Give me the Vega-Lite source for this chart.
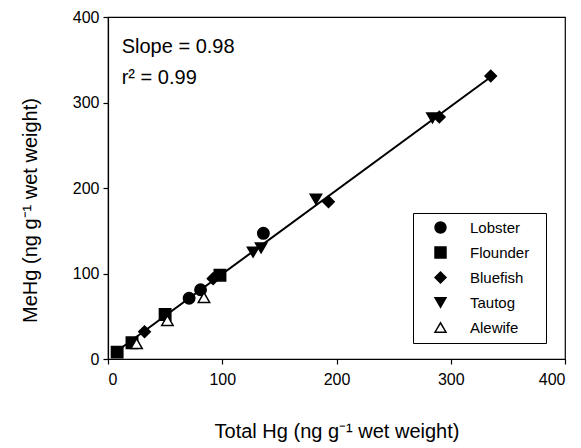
{
  "$schema": "https://vega.github.io/schema/vega-lite/v6.json",
  "autosize": "none",
  "width": 457,
  "height": 342,
  "padding": {"left": 108, "top": 17, "right": 16, "bottom": 89},
  "background": "white",
  "config": {
    "font": "Liberation Sans",
    "view": {"stroke": "black", "strokeWidth": 1.2},
    "axis": {
      "domainColor": "black", "domainWidth": 1.2, "tickColor": "black", "tickWidth": 1.2,
      "tickSize": 5, "grid": false, "labelFont": "Liberation Sans", "labelFontSize": 16,
      "labelColor": "black", "titleFont": "Liberation Sans", "titleFontSize": 20,
      "titleFontWeight": "normal", "titleColor": "black"
    },
    "legend": {
      "orient": "none", "legendX": 305, "legendY": 196, "padding": 7,
      "strokeColor": "black", "fillColor": "white", "labelFontSize": 15,
      "labelFont": "Liberation Sans", "labelColor": "black", "symbolSize": 120,
      "symbolStrokeWidth": 1.5, "symbolOffset": 13,
      "labelOffset": 22, "rowPadding": 8,
      "titleOrient": "right", "titleFontSize": 2, "titlePadding": 9, "titleColor": "white"
    }
  },
  "layer": [
    {
      "data": {"values": [{"total": 8, "mehg": 9.3}, {"total": 335, "mehg": 329.8}]},
      "mark": {"type": "line", "color": "black", "strokeWidth": 2},
      "encoding": {
        "x": {"field": "total", "type": "quantitative", "scale": {"domain": [0, 400], "nice": false},
          "axis": {"values": [0, 100, 200, 300, 400], "title": "Total Hg (ng g⁻¹ wet weight)", "labelPadding": 7, "titleY": 78, "titleBaseline": "alphabetic"}},
        "y": {"field": "mehg", "type": "quantitative", "scale": {"domain": [0, 400], "nice": false},
          "axis": {"values": [0, 100, 200, 300, 400], "title": "MeHg (ng g⁻¹ wet weight)", "labelPadding": 4, "titleX": -78, "titleY": 193, "titleAlign": "center", "titleBaseline": "middle"}}
      }
    },
    {
      "data": {"values": [
        {"species": "Lobster", "total": 71, "mehg": 71},
        {"species": "Lobster", "total": 81, "mehg": 81},
        {"species": "Lobster", "total": 136, "mehg": 147},
        {"species": "Flounder", "total": 8, "mehg": 8},
        {"species": "Flounder", "total": 21, "mehg": 19},
        {"species": "Flounder", "total": 50, "mehg": 52},
        {"species": "Flounder", "total": 98, "mehg": 98},
        {"species": "Bluefish", "total": 32, "mehg": 32},
        {"species": "Bluefish", "total": 92, "mehg": 94},
        {"species": "Bluefish", "total": 193, "mehg": 184},
        {"species": "Bluefish", "total": 290, "mehg": 283},
        {"species": "Bluefish", "total": 335, "mehg": 331},
        {"species": "Tautog", "total": 127, "mehg": 125},
        {"species": "Tautog", "total": 134, "mehg": 130},
        {"species": "Tautog", "total": 182, "mehg": 187},
        {"species": "Tautog", "total": 284, "mehg": 282},
        {"species": "Alewife", "total": 25, "mehg": 18},
        {"species": "Alewife", "total": 52, "mehg": 45},
        {"species": "Alewife", "total": 84, "mehg": 72}
      ]},
      "mark": {"type": "point", "filled": true, "size": 130, "strokeWidth": 1.5, "opacity": 1, "fillOpacity": 1, "strokeOpacity": 1},
      "encoding": {
        "x": {"field": "total", "type": "quantitative"},
        "y": {"field": "mehg", "type": "quantitative"},
        "shape": {"field": "species", "type": "nominal",
          "scale": {"domain": ["Lobster", "Flounder", "Bluefish", "Tautog", "Alewife"], "range": ["circle", "square", "diamond", "triangle-down", "triangle-up"]},
          "legend": {"title": "."}},
        "fill": {"field": "species", "type": "nominal",
          "scale": {"domain": ["Lobster", "Flounder", "Bluefish", "Tautog", "Alewife"], "range": ["black", "black", "black", "black", "white"]},
          "legend": {"title": "."}},
        "stroke": {"field": "species", "type": "nominal",
          "scale": {"domain": ["Lobster", "Flounder", "Bluefish", "Tautog", "Alewife"], "range": ["black", "black", "black", "black", "black"]},
          "legend": {"title": "."}}
      }
    },
    {
      "data": {"values": [
        {"label": "Slope = 0.98", "total": 12, "mehg": 358},
        {"label": "r² = 0.99", "total": 12, "mehg": 322}
      ]},
      "mark": {"type": "text", "align": "left", "baseline": "alphabetic", "fontSize": 20, "font": "Liberation Sans", "color": "black"},
      "encoding": {
        "x": {"field": "total", "type": "quantitative"},
        "y": {"field": "mehg", "type": "quantitative"},
        "text": {"field": "label"}
      }
    }
  ]
}
